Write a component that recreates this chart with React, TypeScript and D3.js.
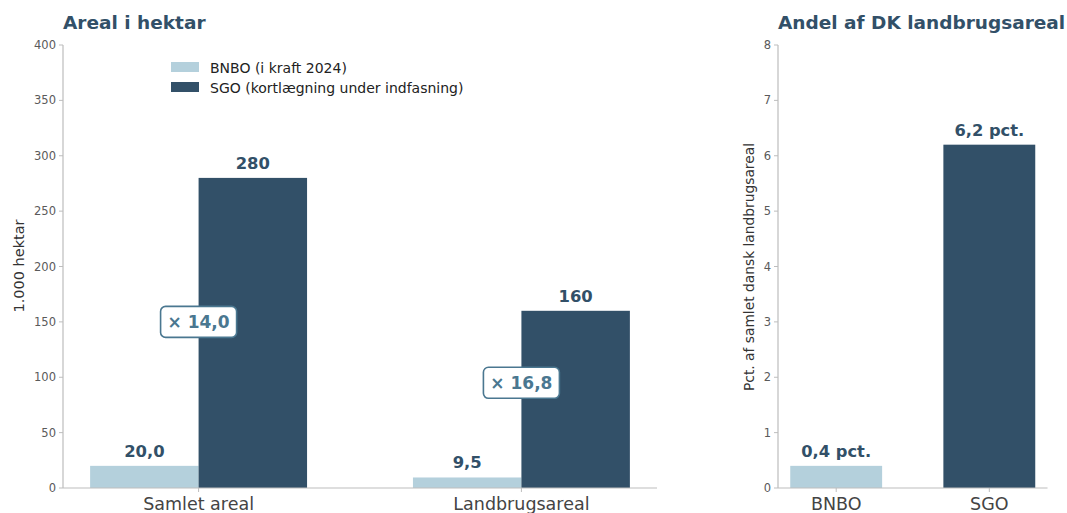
import React from "react";
import * as d3 from "d3";

const groups = ["Samlet areal", "Landbrugsareal"];
const bnboValues = [20.0, 9.5];
const sgoValues = [280, 160];
const bnboLabels = ["20,0", "9,5"];
const sgoLabels = ["280", "160"];
const ratioLabels = ["× 14,0", "× 16,8"];
const ratioY = [150, 95];
const leftTicks = [0, 50, 100, 150, 200, 250, 300, 350, 400];

const shareCats = ["BNBO", "SGO"];
const shareValues = [0.4, 6.2];
const shareLabels = ["0,4 pct.", "6,2 pct."];
const rightTicks = [0, 1, 2, 3, 4, 5, 6, 7, 8];

const legendLabels = ["BNBO (i kraft 2024)", "SGO (kortlægning under indfasning)"];

const LIGHT = "#b4d0dc";
const DARK = "#325068";
const ANNO = "#4a7790";
const TITLE = "#325068";
const SPINE = "#bdbdbd";
const TICKTXT = "#5a5a5a";
const FONT = "DejaVu Sans, sans-serif";

export default function App() {
  const y0 = 488;
  const yL = d3.scaleLinear().domain([0, 400]).range([y0, 45]);
  const xL = d3.scaleLinear().domain([-0.42, 1.42]).range([63, 657]);
  const bw = 0.336;

  const yR = d3.scaleLinear().domain([0, 8]).range([y0, 45]);
  const xR = d3.scaleLinear().domain([-0.38, 1.38]).range([778, 1047.5]);
  const bwR = 0.6;

  return (
    <svg width={1067} height={513} style={{ position: "absolute", left: 0, top: 0, fontFamily: FONT }}>
      <rect width={1067} height={513} fill="#fff" />
      {/* Left chart */}
      <text x={63} y={29} fontSize={18.5} fontWeight="bold" fill={TITLE}>Areal i hektar</text>
      {groups.map((g, i) => (
        <g key={g}>
          <rect x={xL(i - bw)} y={yL(bnboValues[i])} width={xL(i) - xL(i - bw)} height={y0 - yL(bnboValues[i])} fill={LIGHT} />
          <rect x={xL(i)} y={yL(sgoValues[i])} width={xL(i + bw) - xL(i)} height={y0 - yL(sgoValues[i])} fill={DARK} />
          <text x={xL(i - bw / 2)} y={yL(bnboValues[i]) - 9} textAnchor="middle" fontSize={16.4} fontWeight="bold" fill={DARK}>{bnboLabels[i]}</text>
          <text x={xL(i + bw / 2)} y={yL(sgoValues[i]) - 9} textAnchor="middle" fontSize={16.4} fontWeight="bold" fill={DARK}>{sgoLabels[i]}</text>
        </g>
      ))}
      {/* axes */}
      <line x1={63} x2={63} y1={45} y2={y0} stroke={SPINE} strokeWidth={1.2} />
      <line x1={63} x2={657} y1={y0} y2={y0} stroke={SPINE} strokeWidth={1.2} />
      {leftTicks.map((t) => (
        <g key={t}>
          <line x1={59} x2={63} y1={yL(t)} y2={yL(t)} stroke={SPINE} />
          <text x={56} y={yL(t)} dy="0.35em" textAnchor="end" fontSize={11.5} fill={TICKTXT}>{t}</text>
        </g>
      ))}
      {groups.map((g, i) => (
        <g key={g + "t"}>
          <line x1={xL(i)} x2={xL(i)} y1={y0} y2={y0 + 4} stroke={SPINE} />
          <text x={xL(i)} y={510} textAnchor="middle" fontSize={17.5} fill="#444">{g}</text>
        </g>
      ))}
      <text transform={`translate(24,266) rotate(-90)`} textAnchor="middle" fontSize={14.5} fill="#333">1.000 hektar</text>
      {/* ratio boxes */}
      {groups.map((g, i) => {
        const w = 76;
        const cx = xL(i);
        const cy = yL(ratioY[i]);
        return (
          <g key={g + "r"}>
            <rect x={cx - w / 2} y={cy - 15.5} width={w} height={31} rx={5} fill="#fff" stroke={ANNO} strokeWidth={1.6} />
            <text x={cx} y={cy} dy="0.36em" textAnchor="middle" fontSize={17} fontWeight="bold" fill={ANNO}>{ratioLabels[i]}</text>
          </g>
        );
      })}
      {/* legend */}
      {legendLabels.map((l, i) => (
        <g key={l}>
          <rect x={171} y={62 + i * 20} width={28} height={10} fill={i === 0 ? LIGHT : DARK} />
          <text x={210} y={72.5 + i * 20} fontSize={14} fill="#222">{l}</text>
        </g>
      ))}

      {/* Right chart */}
      <text x={778} y={29} fontSize={18.5} fontWeight="bold" fill={TITLE}>Andel af DK landbrugsareal</text>
      {shareCats.map((c, i) => (
        <g key={c}>
          <rect x={xR(i - bwR / 2)} y={yR(shareValues[i])} width={xR(i + bwR / 2) - xR(i - bwR / 2)} height={y0 - yR(shareValues[i])} fill={i === 0 ? LIGHT : DARK} />
          <text x={xR(i)} y={yR(shareValues[i]) - 9} textAnchor="middle" fontSize={16.3} fontWeight="bold" fill={DARK}>{shareLabels[i]}</text>
          <line x1={xR(i)} x2={xR(i)} y1={y0} y2={y0 + 4} stroke={SPINE} />
          <text x={xR(i)} y={510} textAnchor="middle" fontSize={17.5} fill="#444">{c}</text>
        </g>
      ))}
      <line x1={778} x2={778} y1={45} y2={y0} stroke={SPINE} strokeWidth={1.2} />
      <line x1={778} x2={1047.5} y1={y0} y2={y0} stroke={SPINE} strokeWidth={1.2} />
      {rightTicks.map((t) => (
        <g key={t}>
          <line x1={774} x2={778} y1={yR(t)} y2={yR(t)} stroke={SPINE} />
          <text x={771} y={yR(t)} dy="0.35em" textAnchor="end" fontSize={11.5} fill={TICKTXT}>{t}</text>
        </g>
      ))}
      <text transform={`translate(754,267) rotate(-90)`} textAnchor="middle" fontSize={13.8} fill="#333">Pct. af samlet dansk landbrugsareal</text>
    </svg>
  );
}
